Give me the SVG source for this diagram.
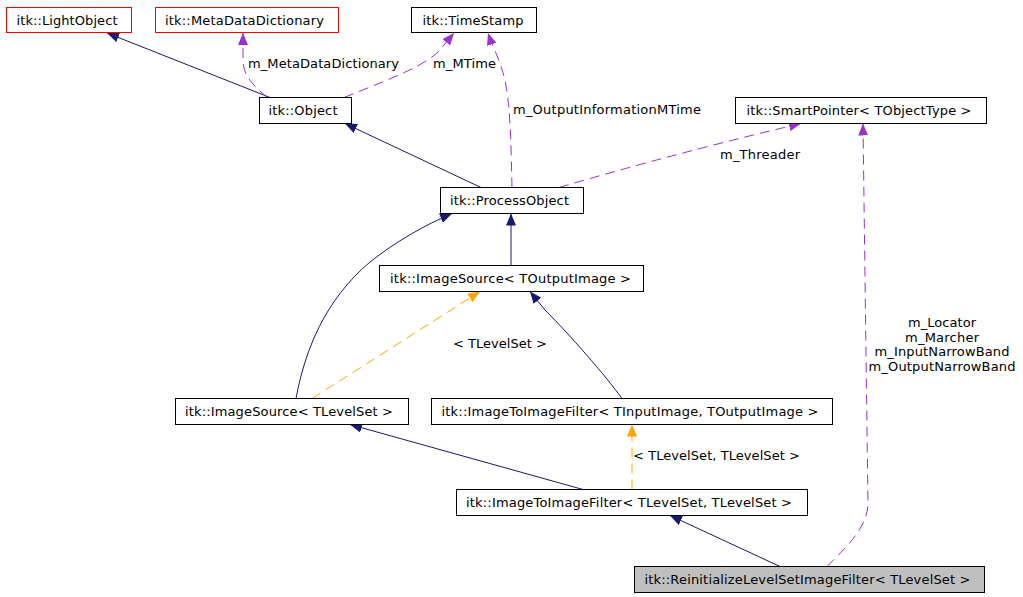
<svg xmlns="http://www.w3.org/2000/svg" width="1023" height="597" viewBox="0 0 1023 597">
<style>
.box{fill:#ffffff;stroke:#000000;stroke-width:1}
.red{fill:#ffffff;stroke:#ff0000;stroke-width:1}
.cur{fill:#bfbfbf;stroke:#000000;stroke-width:1}
text{font-family:"DejaVu Sans","Liberation Sans",sans-serif;font-size:13px;fill:#000000}
.nl{text-anchor:middle}
.e{fill:none;stroke-width:1}
.inh{stroke:#191970}
.use{stroke:#9a32cd;stroke-dasharray:10,6}
.tpl{stroke:#ffa500;stroke-dasharray:10,6}
</style>
<defs>
<marker id="aN" markerWidth="12" markerHeight="10" refX="12" refY="5" orient="auto" markerUnits="userSpaceOnUse"><path d="M0,0 L12,5 L0,10 z" fill="#191970"/></marker>
<marker id="aP" markerWidth="12" markerHeight="10" refX="12" refY="5" orient="auto" markerUnits="userSpaceOnUse"><path d="M0,0 L12,5 L0,10 z" fill="#9a32cd"/></marker>
<marker id="aO" markerWidth="12" markerHeight="10" refX="12" refY="5" orient="auto" markerUnits="userSpaceOnUse"><path d="M0,0 L12,5 L0,10 z" fill="#ffa500"/></marker>
</defs>
<rect width="1023" height="597" fill="#ffffff"/>
<g id="connectors">
<path class="e inh" d="M270,97.5 L107,33" marker-end="url(#aN)"/>
<path class="e use" d="M267,97.5 C257,88 243,78 243,60 L243,33" marker-end="url(#aP)"/>
<path class="e use" d="M344,97.5 C390,79 425,66 440,50 L454,33" marker-end="url(#aP)"/>
<path class="e use" d="M512,187.5 C511,150 511,110 505,80 C500,60 492,45 488,33" marker-end="url(#aP)"/>
<path class="e inh" d="M481,187.5 L345,123.5" marker-end="url(#aN)"/>
<path class="e use" d="M559,187.5 Q680,152 801,123.5" marker-end="url(#aP)"/>
<path class="e inh" d="M511,265.5 L511,213.5" marker-end="url(#aN)"/>
<path class="e inh" d="M296,398.5 C305,350 325,300 370,262 C395,242 425,225 452,213.5" marker-end="url(#aN)"/>
<path class="e tpl" d="M312,398.5 L480,291.5" marker-end="url(#aO)"/>
<path class="e inh" d="M622,398.5 C605,375 570,335 545,310 L530,291.5" marker-end="url(#aN)"/>
<path class="e inh" d="M583,489.5 L350,424.5" marker-end="url(#aN)"/>
<path class="e tpl" d="M632,489.5 L632,424.5" marker-end="url(#aO)"/>
<path class="e inh" d="M780,566.5 L670,515.5" marker-end="url(#aN)"/>
<path class="e use" d="M827,566.5 C845,548 866,530 868,505 L863,123.5" marker-end="url(#aP)"/>
<text x="248" y="67.5" textLength="151" lengthAdjust="spacing">m_MetaDataDictionary</text>
<text x="433" y="67.5" textLength="63" lengthAdjust="spacing">m_MTime</text>
<text x="513" y="113.5" textLength="188" lengthAdjust="spacing">m_OutputInformationMTime</text>
<text x="720" y="158.5" textLength="80" lengthAdjust="spacing">m_Threader</text>
<text x="453" y="348" textLength="94" lengthAdjust="spacing">&lt; TLevelSet &gt;</text>
<text x="633" y="460" textLength="167" lengthAdjust="spacing">&lt; TLevelSet, TLevelSet &gt;</text>
<text class="nl" x="942" y="327" textLength="68" lengthAdjust="spacing">m_Locator</text>
<text class="nl" x="942" y="341.5" textLength="74" lengthAdjust="spacing">m_Marcher</text>
<text class="nl" x="942" y="356" textLength="135" lengthAdjust="spacing">m_InputNarrowBand</text>
<text class="nl" x="942" y="371" textLength="147" lengthAdjust="spacing">m_OutputNarrowBand</text>
</g>
<g id="LightObject"><rect class="red" x="6.5" y="7.5" width="125" height="25"/><text class="nl" x="67" y="24.5" textLength="101" lengthAdjust="spacing">itk::LightObject</text></g>
<g id="MetaDataDictionary"><rect class="red" x="155.5" y="7.5" width="183" height="25"/><text class="nl" x="244.5" y="24.5" textLength="159" lengthAdjust="spacing">itk::MetaDataDictionary</text></g>
<g id="TimeStamp"><rect class="box" x="411.5" y="7.5" width="125" height="25"/><text class="nl" x="473" y="24.5" textLength="101" lengthAdjust="spacing">itk::TimeStamp</text></g>
<g id="Object"><rect class="box" x="259.5" y="97.5" width="92" height="26"/><text class="nl" x="303" y="115" textLength="69" lengthAdjust="spacing">itk::Object</text></g>
<g id="SmartPointer"><rect class="box" x="735.5" y="97.5" width="251" height="26"/><text class="nl" x="859" y="115" textLength="225" lengthAdjust="spacing">itk::SmartPointer&lt; TObjectType &gt;</text></g>
<g id="ProcessObject"><rect class="box" x="440.5" y="187.5" width="143" height="26"/><text class="nl" x="509.5" y="205" textLength="119" lengthAdjust="spacing">itk::ProcessObject</text></g>
<g id="ImageSourceOut"><rect class="box" x="379.5" y="265.5" width="264" height="26"/><text class="nl" x="510.5" y="283" textLength="241" lengthAdjust="spacing">itk::ImageSource&lt; TOutputImage &gt;</text></g>
<g id="ImageSourceLS"><rect class="box" x="175.5" y="398.5" width="233" height="26"/><text class="nl" x="289" y="416" textLength="208" lengthAdjust="spacing">itk::ImageSource&lt; TLevelSet &gt;</text></g>
<g id="ImageToImageFilterInOut"><rect class="box" x="431.5" y="398.5" width="401" height="26"/><text class="nl" x="630" y="416" textLength="377" lengthAdjust="spacing">itk::ImageToImageFilter&lt; TInputImage, TOutputImage &gt;</text></g>
<g id="ImageToImageFilterLS"><rect class="box" x="456.5" y="489.5" width="351" height="26"/><text class="nl" x="629" y="507" textLength="326" lengthAdjust="spacing">itk::ImageToImageFilter&lt; TLevelSet, TLevelSet &gt;</text></g>
<g id="ReinitializeLevelSetImageFilter"><rect class="cur" x="634.5" y="566.5" width="350" height="26"/><text class="nl" x="807.5" y="584" textLength="326" lengthAdjust="spacing">itk::ReinitializeLevelSetImageFilter&lt; TLevelSet &gt;</text></g>
</svg>
